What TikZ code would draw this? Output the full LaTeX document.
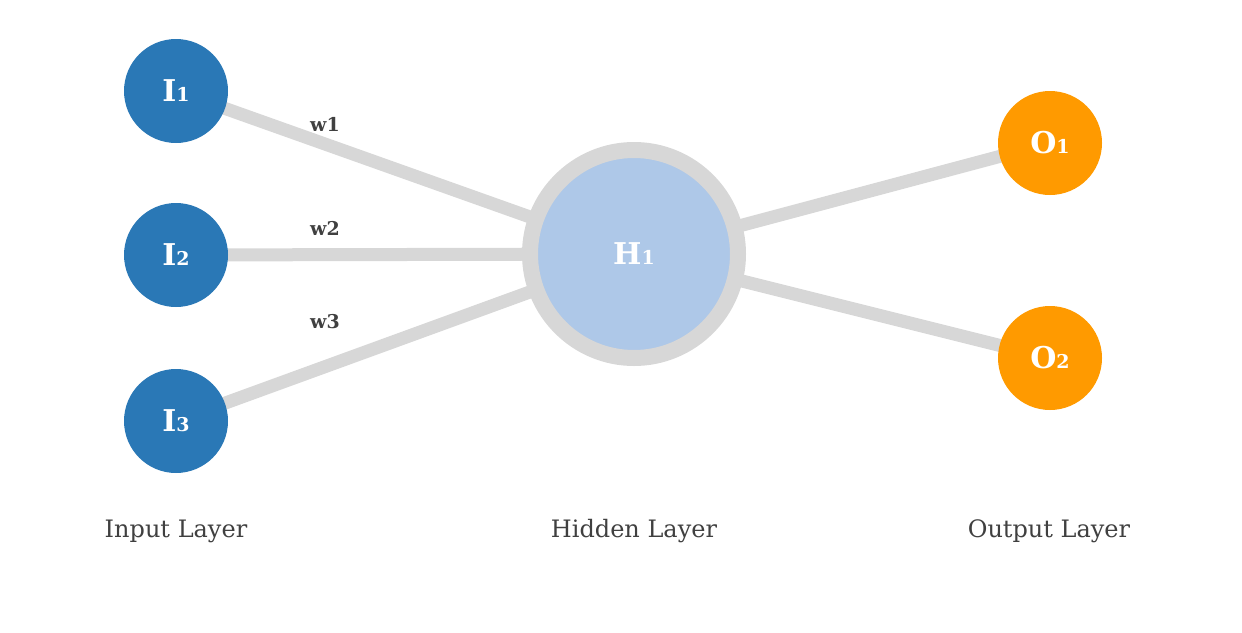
\documentclass[tikz,border=0pt]{standalone}
\usepackage{fontspec}
\setmainfont{DejaVu Serif}
\definecolor{inblue}{HTML}{2A78B6}
\definecolor{hidblue}{HTML}{AEC8E8}
\definecolor{ringgray}{HTML}{D7D7D7}
\definecolor{outorange}{HTML}{FF9A00}
\definecolor{txtgray}{HTML}{404040}
\tikzset{
  inputnode/.style={circle,fill=inblue,minimum size=104pt,inner sep=0pt,text=white,font=\bfseries\fontsize{30}{30}\selectfont},
  outputnode/.style={circle,fill=outorange,minimum size=104pt,inner sep=0pt,text=white,font=\bfseries\fontsize{30}{30}\selectfont},
  hiddennode/.style={circle,fill=hidblue,draw=ringgray,line width=16pt,minimum size=208pt,inner sep=0pt,text=white,font=\bfseries\fontsize{30}{30}\selectfont},
  conn/.style={draw=ringgray,line width=13pt},
  wlabel/.style={text=txtgray,font=\bfseries\fontsize{19}{19}\selectfont},
  layerlabel/.style={text=txtgray,font=\fontsize{24}{24}\selectfont}
}
\newcommand{\smallsub}[1]{{\fontsize{19}{19}\selectfont #1}}
\begin{document}
\begin{tikzpicture}[x=1pt,y=-1pt]
\useasboundingbox (0,0) rectangle (1242,632);
\coordinate (hc) at (634,254);
\coordinate (i1c) at (176,91);
\coordinate (i2c) at (176,255);
\coordinate (i3c) at (176,421);
\coordinate (o1c) at (1050,143);
\coordinate (o2c) at (1050,358);
\draw[conn] (i1c) -- (hc);
\draw[conn] (i2c) -- (hc);
\draw[conn] (i3c) -- (hc);
\draw[conn] (hc) -- (o1c);
\draw[conn] (hc) -- (o2c);
\node[inputnode] (i1) at (i1c) {I\smallsub{1}};
\node[inputnode] (i2) at (i2c) {I\smallsub{2}};
\node[inputnode] (i3) at (i3c) {I\smallsub{3}};
\node[hiddennode] (h1) at (hc) {H\smallsub{1}};
\node[outputnode] (o1) at (o1c) {O\smallsub{1}};
\node[outputnode] (o2) at (o2c) {O\smallsub{2}};
\node[wlabel] (w1) at (325,124) {w1};
\node[wlabel] (w2) at (325,228) {w2};
\node[wlabel] (w3) at (325,322) {w3};
\node[layerlabel] (li) at (176,531) {Input Layer};
\node[layerlabel] (lh) at (634,531) {Hidden Layer};
\node[layerlabel] (lo) at (1049,531) {Output Layer};
\end{tikzpicture}
\end{document}
